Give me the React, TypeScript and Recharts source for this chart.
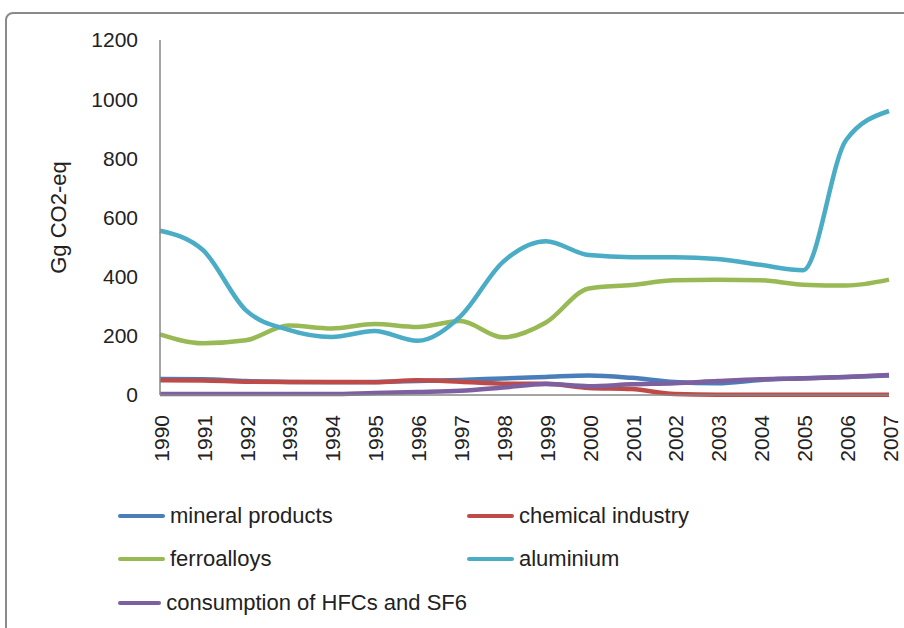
import React from "react";
import { LineChart, Line, XAxis, YAxis, Legend, Label } from "recharts";

const years = [
  "1990", "1991", "1992", "1993", "1994", "1995", "1996", "1997", "1998",
  "1999", "2000", "2001", "2002", "2003", "2004", "2005", "2006", "2007",
];
const yTicks = [0, 200, 400, 600, 800, 1000, 1200];

const mineralProducts = [54, 53, 47, 44, 43, 44, 47, 51, 56, 61, 66, 58, 44, 40, 51, 57, 61, 66];
const chemicalIndustry = [50, 49, 45, 44, 44, 43, 50, 45, 38, 38, 24, 20, 3, 1, 1, 1, 1, 1];
const ferroalloys = [205, 175, 185, 235, 225, 240, 230, 250, 195, 245, 360, 372, 388, 390, 388, 373, 370, 390];
const aluminium = [555, 490, 287, 220, 196, 216, 183, 265, 450, 520, 473, 466, 466, 460, 440, 422, 862, 960];
const hfcSf6 = [3, 3, 3, 3, 3, 7, 10, 14, 25, 37, 30, 36, 40, 47, 53, 56, 61, 68];

const series = [
  { key: "mineral", name: "mineral products", color: "#4A7EBB", values: mineralProducts },
  { key: "chemical", name: "chemical industry", color: "#BE4B48", values: chemicalIndustry },
  { key: "ferro", name: "ferroalloys", color: "#98B954", values: ferroalloys },
  { key: "alu", name: "aluminium", color: "#4BACC6", values: aluminium },
  { key: "hfc", name: "consumption of HFCs and SF6", color: "#7D60A0", values: hfcSf6 },
];

const chartData = years.map((year, i) => {
  const row: Record<string, string | number> = { year };
  series.forEach((s) => {
    row[s.key] = s.values[i];
  });
  return row;
});

const FONT = "'Liberation Sans', Arial, sans-serif";

// year labels read bottom-to-top, top end a bit under the axis
const YearTick = ({ x, y, payload }: any) => {
  const ty = y + 12;
  return (
    <text
      x={x}
      y={ty}
      transform={`rotate(-90, ${x}, ${ty})`}
      textAnchor="end"
      dy="0.42em"
      fontSize={21}
      fontFamily={FONT}
      fill="#222"
    >
      {payload.value}
    </text>
  );
};

const AxisTitle = ({ viewBox }: any) => {
  const cx = viewBox.x - 42;
  const cy = viewBox.y + viewBox.height / 2;
  return (
    <text
      x={cx}
      y={cy}
      transform={`rotate(-90, ${cx}, ${cy})`}
      textAnchor="middle"
      dominantBaseline="central"
      fontSize={22}
      fontFamily={FONT}
      fill="#222"
    >
      Gg CO2-eq
    </text>
  );
};

const LegendBox = () => (
  <div
    style={{
      display: "grid",
      gridTemplateColumns: "349px 349px",
      gridAutoRows: "43.5px",
      height: 130,
      fontFamily: FONT,
      fontSize: 22,
      color: "#222",
    }}
  >
    {series.map((s) => (
      <div key={s.key} style={{ display: "flex", alignItems: "center" }}>
        <span
          style={{
            display: "inline-block",
            width: 47,
            height: 4,
            borderRadius: 2,
            background: s.color,
            marginRight: 5,
          }}
        />
        <span style={{ whiteSpace: "nowrap" }}>{s.name}</span>
      </div>
    ))}
  </div>
);

export default function App() {
  return (
    <div
      style={{
        position: "absolute",
        left: 0,
        top: 0,
        width: 904,
        height: 628,
        overflow: "hidden",
        background: "#fff",
        fontFamily: FONT,
      }}
    >
      <div
        style={{
          position: "absolute",
          left: 5,
          top: 12,
          width: 940,
          height: 700,
          border: "2px solid #8a8a8a",
          borderRadius: 8,
        }}
      />
      <LineChart
        width={904}
        height={628}
        data={chartData}
        margin={{ top: 40, right: 15, left: 100, bottom: 43 }}
        style={{ position: "absolute", left: 0, top: 0 }}
      >
        <XAxis
          dataKey="year"
          height={60}
          interval={0}
          axisLine={{ stroke: "#868686", strokeWidth: 1.5 }}
          tickLine={false}
          tickSize={0}
          tickMargin={8}
          tick={<YearTick />}
        />
        <YAxis
          width={60}
          domain={[0, 1200]}
          ticks={yTicks}
          interval={0}
          axisLine={{ stroke: "#868686", strokeWidth: 1.5 }}
          tickLine={false}
          tickSize={0}
          tickMargin={22}
          tick={{ fontSize: 21, fontFamily: FONT, fill: "#222" }}
        >
          <Label content={<AxisTitle />} />
        </YAxis>
        <Legend
          verticalAlign="bottom"
          content={<LegendBox />}
          wrapperStyle={{ left: 118, top: 494, width: 700 }}
        />
        {series.map((s) => (
          <Line
            key={s.key}
            type="monotone"
            dataKey={s.key}
            name={s.name}
            stroke={s.color}
            strokeWidth={4.5}
            dot={false}
            activeDot={false}
            isAnimationActive={false}
          />
        ))}
      </LineChart>
    </div>
  );
}
